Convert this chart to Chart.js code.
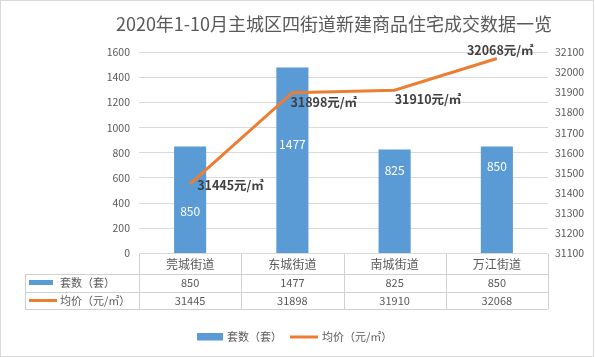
<!DOCTYPE html>
<html>
<head>
<meta charset="utf-8">
<script src="https://cdn.jsdelivr.net/npm/chart.js@4.4.1/dist/chart.umd.min.js"></script>
<style>
html,body{margin:0;padding:0;background:#fff;}
canvas{display:block;}
</style>
</head>
<body>
<canvas id="c" width="595" height="357"></canvas>
<script>
const titleText = '2020年1-10月主城区四街道新建商品住宅成交数据一览';
const categories = ['莞城街道', '东城街道', '南城街道', '万江街道'];
const unitsLabel = '套数（套）';
const priceLabel = '均价（元/㎡）';
const units = [850, 1477, 825, 850];
const prices = [31445, 31898, 31910, 32068];
const leftTicks = [0, 200, 400, 600, 800, 1000, 1200, 1400, 1600];
const rightTicks = [31100, 31200, 31300, 31400, 31500, 31600, 31700, 31800, 31900, 32000, 32100];
const priceSuffix = '元/㎡';

const BLUE = '#5b9bd5';
const ORANGE = '#ed7d31';
const TXT = '#595959';
const GRID = '#d9d9d9';
const FONT = '"Noto Sans CJK SC", "Noto Sans", sans-serif';

// label offsets (styling only)
const barLabelOffsets = [65, 77, 21, 20];
const lineLabelOffsets = [[7, 1], [-2, 10], [0, 9], [-30, -8]];

const decor = {
  id: 'decor',
  beforeDraw(chart) {
    const ctx = chart.ctx;
    ctx.save();
    ctx.fillStyle = '#fff';
    ctx.fillRect(0, 0, chart.width, chart.height);
    ctx.restore();
  },
  afterDraw(chart) {
    const ctx = chart.ctx;
    const xs = chart.scales.x;
    const area = chart.chartArea;
    ctx.save();

    // title
    ctx.fillStyle = TXT;
    ctx.font = '18px ' + FONT;
    ctx.textAlign = 'center';
    ctx.textBaseline = 'middle';
    ctx.fillText(titleText, 334, 24);

    // bar value labels
    const barMeta = chart.getDatasetMeta(0);
    ctx.font = '12px ' + FONT;
    ctx.fillStyle = '#ffffff';
    barMeta.data.forEach((el, i) => {
      ctx.fillText(String(units[i]), el.x, el.y + barLabelOffsets[i]);
    });

    // line value labels
    const lineMeta = chart.getDatasetMeta(1);
    ctx.font = 'bold 12.5px ' + FONT;
    ctx.fillStyle = '#404040';
    ctx.textAlign = 'left';
    lineMeta.data.forEach((el, i) => {
      const o = lineLabelOffsets[i];
      ctx.fillText(prices[i] + priceSuffix, el.x + o[0], el.y + o[1]);
    });

    // data table
    const colW = (area.right - area.left) / categories.length;
    const yTop = area.bottom;
    const r1 = 274, r2 = 291.5, r3 = 309;
    const tLeft = 25;
    ctx.strokeStyle = '#d0d0d0';
    ctx.lineWidth = 1;
    ctx.beginPath();
    for (let i = 0; i <= categories.length; i++) {
      const x = Math.round(area.left + i * colW) + 0.5;
      ctx.moveTo(x, yTop);
      ctx.lineTo(x, r3);
    }
    [r1, r2, r3].forEach(y => {
      ctx.moveTo(tLeft, Math.round(y) + 0.5);
      ctx.lineTo(area.right, Math.round(y) + 0.5);
    });
    ctx.moveTo(tLeft + 0.5, r1);
    ctx.lineTo(tLeft + 0.5, r3 + 0.5);
    ctx.stroke();

    ctx.fillStyle = TXT;
    ctx.textAlign = 'center';
    ctx.font = '12px ' + FONT;
    categories.forEach((c, i) => {
      const x = xs.getPixelForValue(i);
      ctx.fillText(c, x, (yTop + r1) / 2 + 0.5);
    });
    ctx.font = '11px ' + FONT;
    units.forEach((v, i) => {
      ctx.fillText(String(v), xs.getPixelForValue(i), (r1 + r2) / 2 + 0.5);
    });
    prices.forEach((v, i) => {
      ctx.fillText(String(v), xs.getPixelForValue(i), (r2 + r3) / 2 + 0.5);
    });

    // table row headers
    ctx.fillStyle = BLUE;
    ctx.fillRect(29, 280, 24, 5);
    ctx.strokeStyle = ORANGE;
    ctx.lineWidth = 3;
    ctx.beginPath();
    ctx.moveTo(29, 300.5);
    ctx.lineTo(57, 300.5);
    ctx.stroke();
    ctx.fillStyle = TXT;
    ctx.textAlign = 'left';
    ctx.font = '11px ' + FONT;
    ctx.fillText(chart.data.datasets[0].label, 60, 283);
    ctx.fillText(chart.data.datasets[1].label, 60, 300.5);

    // bottom legend
    ctx.fillStyle = BLUE;
    ctx.fillRect(197, 333, 26, 7.5);
    ctx.strokeStyle = ORANGE;
    ctx.lineWidth = 3;
    ctx.beginPath();
    ctx.moveTo(290, 337);
    ctx.lineTo(318, 337);
    ctx.stroke();
    ctx.fillStyle = TXT;
    ctx.fillText(chart.data.datasets[0].label, 227, 337);
    ctx.fillText(chart.data.datasets[1].label, 322, 337);

    // outer border
    ctx.strokeStyle = GRID;
    ctx.lineWidth = 1;
    ctx.strokeRect(0.5, 0.5, chart.width - 2, chart.height - 1);
    ctx.restore();
  }
};

new Chart(document.getElementById('c'), {
  type: 'bar',
  data: {
    labels: categories,
    datasets: [
      {
        type: 'bar',
        label: unitsLabel,
        data: units,
        backgroundColor: BLUE,
        yAxisID: 'y',
        categoryPercentage: 1,
        barPercentage: 0.314,
        order: 2
      },
      {
        type: 'line',
        label: priceLabel,
        data: prices,
        borderColor: ORANGE,
        borderWidth: 3,
        pointRadius: 0,
        tension: 0,
        yAxisID: 'y1',
        order: 1
      }
    ]
  },
  options: {
    responsive: false,
    animation: false,
    devicePixelRatio: 1,
    layout: { padding: { top: 52, left: 0, right: 0, bottom: 0 } },
    plugins: {
      legend: { display: false },
      title: { display: false },
      tooltip: { enabled: false }
    },
    scales: {
      x: {
        ticks: { display: false },
        grid: { display: false },
        border: { display: false },
        afterFit(s) { s.height = 103.5; }
      },
      y: {
        position: 'left',
        min: leftTicks[0],
        max: leftTicks[leftTicks.length - 1],
        afterBuildTicks(s) { s.ticks = leftTicks.map(v => ({ value: v })); },
        ticks: { color: TXT, font: { family: FONT, size: 10.5 }, padding: 9, callback: v => String(v) },
        grid: { color: GRID, drawTicks: false },
        border: { display: false },
        afterFit(s) { s.width = 139; }
      },
      y1: {
        position: 'right',
        min: rightTicks[0],
        max: rightTicks[rightTicks.length - 1],
        afterBuildTicks(s) { s.ticks = rightTicks.map(v => ({ value: v })); },
        ticks: { color: TXT, font: { family: FONT, size: 10.5 }, padding: 7, callback: v => String(v) },
        grid: { display: false, drawTicks: false },
        border: { display: false },
        afterFit(s) { s.width = 47; }
      }
    }
  },
  plugins: [decor]
});
</script>
</body>
</html>
